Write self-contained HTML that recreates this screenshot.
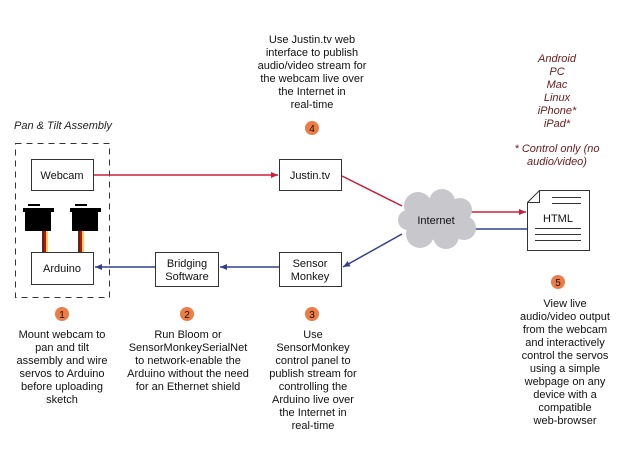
<!DOCTYPE html>
<html><head><meta charset="utf-8"><style>
html,body{margin:0;padding:0;background:#fff;}
svg{display:block;}
text{font-family:"Liberation Sans",sans-serif;font-size:11px;fill:#111;}
.i{font-style:italic;fill:#6a1a1a;}
</style></head><body>
<svg width="620" height="465" viewBox="0 0 620 465" xmlns="http://www.w3.org/2000/svg">
<defs>
<marker id="ar" markerWidth="8" markerHeight="8" refX="7" refY="4" orient="auto" markerUnits="userSpaceOnUse"><path d="M0,1 L7,4 L0,7z" fill="#c8203a"/></marker>
<marker id="ab" markerWidth="8" markerHeight="8" refX="7" refY="4" orient="auto" markerUnits="userSpaceOnUse"><path d="M0,1 L7,4 L0,7z" fill="#34408a"/></marker>
</defs>
<text x="14" y="129" font-style="italic" style="fill:#222">Pan &amp; Tilt Assembly</text>
<rect x="15.5" y="143.5" width="94" height="154" fill="none" stroke="#333" stroke-dasharray="6,5"/>
<!-- servos -->
<g fill="#000">
<rect x="28" y="204" width="12" height="2"/><rect x="23" y="208" width="31" height="4"/><rect x="25" y="210" width="26" height="21"/>
<rect x="75" y="204" width="12" height="2"/><rect x="70" y="208" width="31" height="4"/><rect x="72" y="210" width="26" height="21"/>
</g>
<rect x="42" y="231" width="2" height="21" fill="#5a2a10"/><rect x="44" y="231" width="2" height="21" fill="#c01010"/><rect x="46" y="231" width="2" height="21" fill="#ffcc55"/>
<rect x="78" y="231" width="2" height="21" fill="#5a2a10"/><rect x="80" y="231" width="2" height="21" fill="#c01010"/><rect x="82" y="231" width="2" height="21" fill="#ffcc55"/>
<g fill="#fff" stroke="#333">
<rect x="31.5" y="159.5" width="62" height="31"/>
<rect x="31.5" y="252.5" width="62" height="32"/>
<rect x="155.5" y="252.5" width="63" height="34"/>
<rect x="279.5" y="252.5" width="62" height="34"/>
<rect x="279.5" y="159.5" width="62" height="31"/>
</g>
<text x="62" y="179" text-anchor="middle">Webcam</text>
<text x="62" y="272" text-anchor="middle">Arduino</text>
<text x="187" y="267" text-anchor="middle">Bridging</text>
<text x="187" y="280" text-anchor="middle">Software</text>
<text x="310" y="267" text-anchor="middle">Sensor</text>
<text x="310" y="280" text-anchor="middle">Monkey</text>
<text x="310" y="179" text-anchor="middle">Justin.tv</text>
<!-- lines -->
<g fill="none" stroke-width="1.5">
<line x1="94" y1="175" x2="278" y2="175" stroke="#c8203a" marker-end="url(#ar)"/>
<line x1="342" y1="176" x2="402" y2="206" stroke="#c8203a"/>
<line x1="470" y1="212" x2="526" y2="212" stroke="#c8203a" marker-end="url(#ar)"/>
<line x1="528" y1="229" x2="472" y2="229" stroke="#34408a"/>
<line x1="402" y1="234" x2="343" y2="267" stroke="#34408a" marker-end="url(#ab)"/>
<line x1="279" y1="267" x2="220" y2="267" stroke="#34408a" marker-end="url(#ab)"/>
<line x1="155" y1="267" x2="95" y2="267" stroke="#34408a" marker-end="url(#ab)"/>
</g>
<!-- cloud -->
<g fill="#c8c8cc">
<ellipse cx="436" cy="220" rx="34" ry="20"/>
<circle cx="418" cy="206" r="14"/><circle cx="442" cy="202" r="13"/><circle cx="460" cy="210" r="12"/>
<circle cx="464" cy="228" r="12"/><circle cx="446" cy="236" r="13"/><circle cx="420" cy="234" r="14"/><circle cx="408" cy="220" r="10"/>
</g>
<text x="436" y="224" text-anchor="middle">Internet</text>
<!-- html doc -->
<path d="M539.5,190.5 H589.5 V250.5 H527.5 V202.5 Z M527.5,202.5 H539.5 V190.5" fill="#fff" stroke="#333"/>
<g stroke="#333"><line x1="552" y1="197.5" x2="581" y2="197.5"/><line x1="552" y1="203.5" x2="581" y2="203.5"/>
<line x1="535" y1="228.5" x2="581" y2="228.5"/><line x1="535" y1="234.5" x2="581" y2="234.5"/><line x1="535" y1="240.5" x2="581" y2="240.5"/></g>
<text x="558" y="222" text-anchor="middle" font-size="12">HTML</text>
<!-- circles -->
<g fill="#ee7c45"><circle cx="62" cy="314" r="7"/><circle cx="187" cy="314" r="7"/><circle cx="312" cy="314" r="7"/><circle cx="312" cy="128" r="7"/><circle cx="558" cy="282" r="7"/></g>
<g text-anchor="middle" font-size="10"><text x="62" y="318" style="font-size:10px">1</text><text x="187" y="318" style="font-size:10px">2</text><text x="312" y="318" style="font-size:10px">3</text><text x="312" y="132" style="font-size:10px">4</text><text x="558" y="286" style="font-size:10px">5</text></g>
<!-- texts -->
<g text-anchor="middle">
<text x="312" y="43">Use Justin.tv web</text><text x="312" y="56">interface to publish</text><text x="312" y="69">audio/video stream for</text><text x="312" y="82">the webcam live over</text><text x="312" y="95">the Internet in</text><text x="312" y="108">real-time</text>
<text class="i" x="557" y="62">Android</text><text class="i" x="557" y="75">PC</text><text class="i" x="557" y="88">Mac</text><text class="i" x="557" y="101">Linux</text><text class="i" x="557" y="114">iPhone*</text><text class="i" x="557" y="127">iPad*</text>
<text class="i" x="557" y="152">* Control only (no</text><text class="i" x="557" y="165">audio/video)</text>
<text x="62" y="338">Mount webcam to</text><text x="62" y="351">pan and tilt</text><text x="62" y="364">assembly and wire</text><text x="62" y="377">servos to Arduino</text><text x="62" y="390">before uploading</text><text x="62" y="403">sketch</text>
<text x="188" y="338">Run Bloom or</text><text x="188" y="351">SensorMonkeySerialNet</text><text x="188" y="364">to network-enable the</text><text x="188" y="377">Arduino without the need</text><text x="188" y="390">for an Ethernet shield</text>
<text x="313" y="338">Use</text><text x="313" y="351">SensorMonkey</text><text x="313" y="364">control panel to</text><text x="313" y="377">publish stream for</text><text x="313" y="390">controlling the</text><text x="313" y="403">Arduino live over</text><text x="313" y="416">the Internet in</text><text x="313" y="429">real-time</text>
<text x="565" y="307">View live</text><text x="565" y="320">audio/video output</text><text x="565" y="333">from the webcam</text><text x="565" y="346">and interactively</text><text x="565" y="359">control the servos</text><text x="565" y="372">using a simple</text><text x="565" y="385">webpage on any</text><text x="565" y="398">device with a</text><text x="565" y="411">compatible</text><text x="565" y="424">web-browser</text>
</g>
</svg>
</body></html>
